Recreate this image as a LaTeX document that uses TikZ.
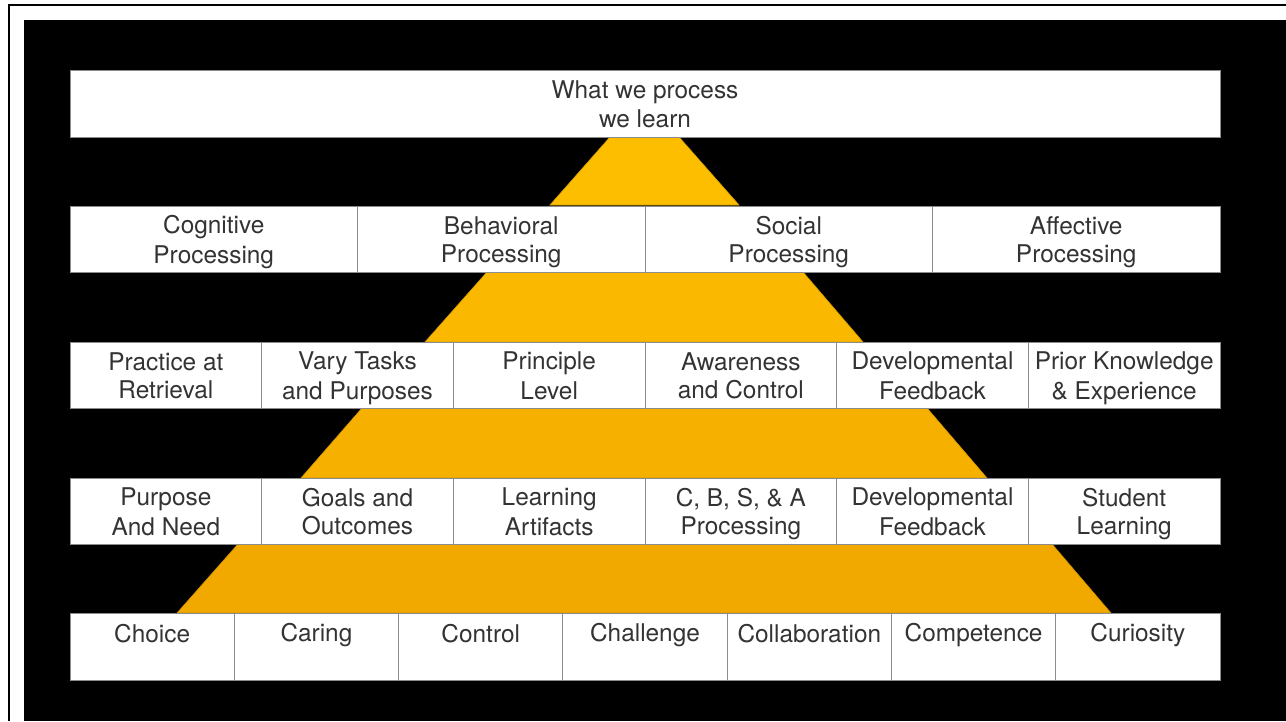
\documentclass[tikz,border=0pt]{standalone}
\usepackage{fontspec}
\setmainfont{TeX Gyre Heros}
\definecolor{tierA}{HTML}{FDBE00}
\definecolor{tierB}{HTML}{FAB800}
\definecolor{tierC}{HTML}{F6B000}
\definecolor{tierD}{HTML}{F1A900}
\newcommand\lnstrut{\rule[-4.5pt]{0pt}{28pt}}
\begin{document}
\begin{tikzpicture}[x=1pt, y=-1pt,
  cell/.style={draw=black!45, line width=0.8pt, fill=white, inner sep=0pt, align=center,
    minimum height=66pt, font=\fontsize{24.4}{28}\selectfont, text=black!80},
  tier/.style={draw=#1!85!black, line width=0.6pt, fill=#1}
]
\useasboundingbox (0,0) rectangle (1286,721);
\fill[white] (0,0) rectangle (1286,721);
\fill[black] (24,20) rectangle (1286,721);
\draw[line width=2pt] (9,721) -- (9,5) -- (1286,5);

% pyramid tiers
\draw[tier=tierA] (610,137) -- (679,137) -- (739,205) -- (550,205) -- cycle;
\draw[tier=tierB] (487,272) -- (803,272) -- (863,342) -- (425,342) -- cycle;
\draw[tier=tierC] (362,408) -- (927,408) -- (987,478) -- (301,478) -- cycle;
\draw[tier=tierD] (238,544) -- (1052,544) -- (1111,613) -- (177,613) -- cycle;

% top box
\node[cell, minimum width=1150pt, minimum height=67pt] (top) at (645,103.5)
  {\lnstrut What we process\\\lnstrut we learn};

% processing
\foreach \a/\b [count=\i] in {Cognitive/Processing, Behavioral/Processing, Social/Processing, Affective/Processing}
  \node[cell, minimum width=287.5pt] (proc-\i) at ({70+(\i-0.5)*287.5},239) {\lnstrut\a\\\lnstrut\b};

% principles
\foreach \a/\b [count=\i] in {Practice at/Retrieval, Vary Tasks/and Purposes, Principle/Level,
    Awareness/and Control, Developmental/Feedback, Prior Knowledge/\& Experience}
  \node[cell, minimum width=191.67pt] (prin-\i) at ({70+(\i-0.5)*191.67},375) {\lnstrut\a\\\lnstrut\b};

% design
\foreach \a/\b [count=\i] in {Purpose/And Need, Goals and/Outcomes, Learning/Artifacts,
    {C, B, S, \& A/Processing}, Developmental/Feedback, Student/Learning}
  \node[cell, minimum width=191.67pt] (dsgn-\i) at ({70+(\i-0.5)*191.67},511) {\lnstrut\a\\\lnstrut\b};

% conditions
\foreach \a [count=\i] in {Choice, Caring, Control, Challenge, Collaboration, Competence, Curiosity}
  \node[cell, minimum width=164.29pt, minimum height=67pt] (cond-\i) at ({70+(\i-0.5)*164.29},646.5) {\lnstrut\a\\\lnstrut};
\end{tikzpicture}
\end{document}
